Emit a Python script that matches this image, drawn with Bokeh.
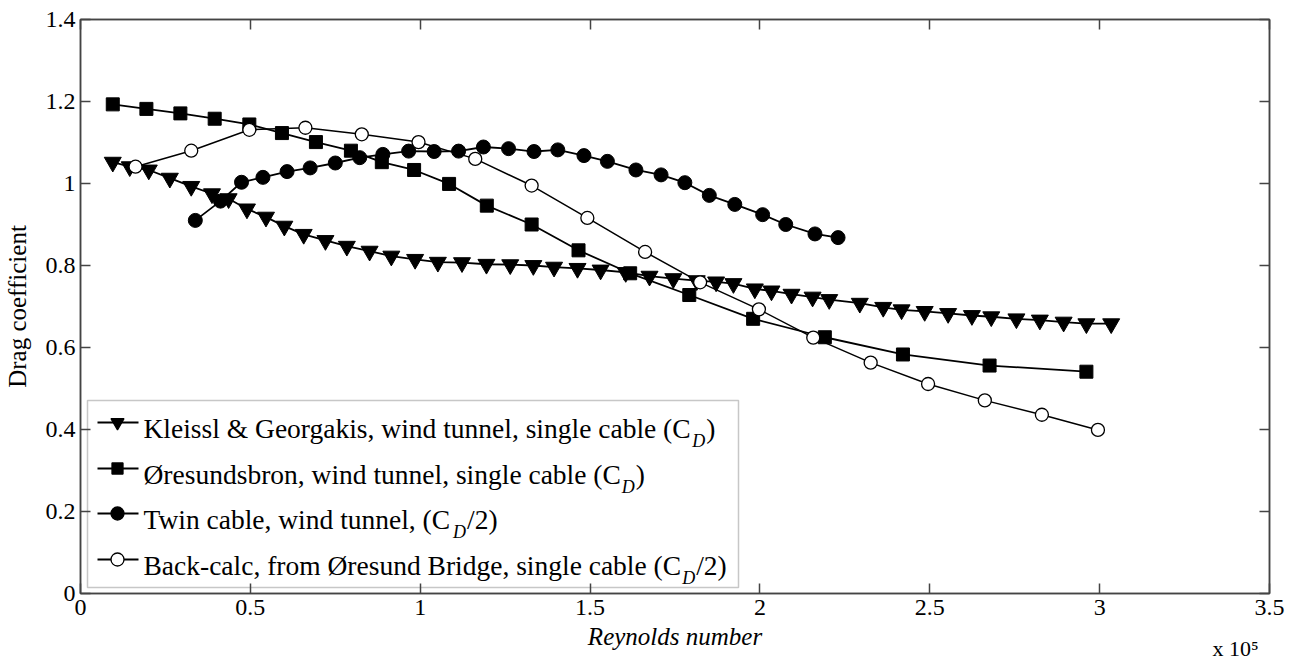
from bokeh.plotting import figure
from bokeh.models import LinearAxis, FixedTicker, Range1d, Label, BoxAnnotation, CustomJSTickFormatter
from bokeh.embed import file_html
from bokeh.resources import INLINE

# ---------------- data (Reynolds number in units of 1e5) ----------------
kleissl_re = [0.095, 0.145, 0.201, 0.263, 0.326, 0.387, 0.436, 0.490, 0.546, 0.600,
              0.657, 0.721, 0.784, 0.851, 0.915, 0.985, 1.052, 1.123, 1.195, 1.265,
              1.333, 1.394, 1.463, 1.531, 1.605, 1.675, 1.745, 1.814, 1.871, 1.922,
              1.985, 2.034, 2.093, 2.155, 2.204, 2.294, 2.363, 2.417, 2.485, 2.554,
              2.624, 2.681, 2.755, 2.824, 2.894, 2.961, 3.034]
kleissl_cd = [1.052, 1.041, 1.033, 1.013, 0.993, 0.975, 0.963, 0.938, 0.918, 0.896,
              0.876, 0.861, 0.847, 0.835, 0.823, 0.815, 0.808, 0.807, 0.803, 0.802,
              0.800, 0.796, 0.793, 0.789, 0.783, 0.774, 0.768, 0.763, 0.760, 0.756,
              0.743, 0.738, 0.730, 0.723, 0.717, 0.708, 0.698, 0.692, 0.688, 0.683,
              0.678, 0.675, 0.670, 0.667, 0.662, 0.658, 0.658]

oresund_re = [0.095, 0.194, 0.294, 0.395, 0.497, 0.593, 0.693, 0.796, 0.887, 0.982,
              1.085, 1.196, 1.328, 1.466, 1.618, 1.792, 1.980, 2.191, 2.421, 2.676, 2.961]
oresund_cd = [1.193, 1.182, 1.171, 1.158, 1.144, 1.123, 1.101, 1.080, 1.052, 1.033,
              0.999, 0.946, 0.900, 0.837, 0.781, 0.728, 0.670, 0.625, 0.583, 0.556, 0.541]

twin_re = [0.338, 0.412, 0.474, 0.537, 0.608, 0.676, 0.750, 0.822, 0.890, 0.966,
           1.041, 1.113, 1.186, 1.260, 1.335, 1.405, 1.482, 1.551, 1.635, 1.709,
           1.779, 1.851, 1.926, 2.008, 2.076, 2.162, 2.230]
twin_cd = [0.910, 0.957, 1.003, 1.015, 1.029, 1.038, 1.050, 1.063, 1.071, 1.079,
           1.078, 1.079, 1.089, 1.085, 1.078, 1.082, 1.068, 1.054, 1.033, 1.021,
           1.002, 0.971, 0.949, 0.924, 0.900, 0.877, 0.868]

backcalc_re = [0.162, 0.326, 0.497, 0.662, 0.828, 0.995, 1.162, 1.328, 1.492, 1.662,
               1.824, 1.997, 2.157, 2.326, 2.495, 2.662, 2.830, 2.995]
backcalc_cd = [1.041, 1.080, 1.131, 1.136, 1.120, 1.101, 1.060, 0.995, 0.916, 0.833,
               0.759, 0.693, 0.624, 0.563, 0.511, 0.471, 0.436, 0.399]

x_ticks = [0, 0.5, 1, 1.5, 2, 2.5, 3, 3.5]
x_tick_labels = ["0", "0.5", "1", "1.5", "2", "2.5", "3", "3.5"]
y_ticks = [0, 0.2, 0.4, 0.6, 0.8, 1, 1.2, 1.4]
y_tick_labels = ["0", "0.2", "0.4", "0.6", "0.8", "1", "1.2", "1.4"]

legend_main = ["Kleissl & Georgakis, wind tunnel, single cable (C",
               "\u00d8resundsbron, wind tunnel, single cable (C",
               "Twin cable, wind tunnel, (C",
               "Back-calc, from \u00d8resund Bridge, single cable (C"]
legend_sub = ["D", "D", "D", "D"]
legend_tail = [")", ")", " /2)", " /2)"]
legend_markers = ["inverted_triangle", "square", "circle", "circle"]
legend_fills = ["black", "black", "black", "white"]
multiplier = "x 10\u2075"

# ---------------- layout ----------------
W, H = 1295, 665
FL, FR, FT, FB = 80, 1269, 19, 593
X0, X1, Y0, Y1 = 0.0, 3.5, 0.0, 1.4
FONT = "Liberation Serif"
AX = "#444444"


def dx(px):
    return X0 + (px - FL) / (FR - FL) * (X1 - X0)


def dy(py):
    return Y0 + (FB - py) / (FB - FT) * (Y1 - Y0)


# Times / Liberation Serif advance widths (1/1000 em)
TW = {' ': 250, '&': 778, '(': 333, ')': 333, ',': 250, '-': 333, '.': 250, '/': 278,
      '2': 500, 'B': 667, 'C': 667, 'D': 722, 'G': 722, 'K': 722, 'T': 611, '\u00d8': 722,
      'a': 444, 'b': 500, 'c': 444, 'd': 500, 'e': 444, 'f': 333, 'g': 500, 'h': 500,
      'i': 278, 'k': 500, 'l': 278, 'm': 778, 'n': 500, 'o': 500, 'p': 500, 'r': 333,
      's': 389, 't': 278, 'u': 500, 'w': 722, 'y': 500}


def tw(s, size):
    return sum(TW.get(c, 500) for c in s) * size / 1000.0


p = figure(width=W, height=H, x_range=Range1d(X0, X1), y_range=Range1d(Y0, Y1),
           output_backend="svg", toolbar_location=None,
           min_border_left=FL, min_border_right=W - FR,
           min_border_top=FT, min_border_bottom=H - FB)
p.grid.visible = False
p.outline_line_color = AX
p.outline_line_width = 1.5
p.background_fill_color = "white"
p.border_fill_color = "white"

xo = {v: l for v, l in zip(x_ticks, x_tick_labels)}
yo = {v: l for v, l in zip(y_ticks, y_tick_labels)}


def style(ax):
    ax.axis_line_color = AX
    ax.axis_line_width = 1.5
    ax.major_tick_line_color = AX
    ax.major_tick_line_width = 1.5
    ax.major_tick_in = 10
    ax.major_tick_out = 0
    ax.minor_tick_line_color = None
    ax.major_label_text_font = FONT
    ax.major_label_text_font_size = "24px"
    ax.major_label_text_color = "black"
    ax.axis_label_text_font = FONT
    ax.axis_label_text_color = "black"


xa = p.xaxis[0]
ya = p.yaxis[0]
style(xa)
style(ya)
xa.ticker = FixedTicker(ticks=x_ticks)
ya.ticker = FixedTicker(ticks=y_ticks)
xa.major_label_overrides = xo
ya.major_label_overrides = yo
xa.major_label_standoff = 6
ya.major_label_standoff = 5
xa.axis_label = "Reynolds number"
xa.axis_label_text_font_style = "italic"
xa.axis_label_text_font_size = "25px"
xa.axis_label_standoff = 5
ya.axis_label = "Drag coefficient"
ya.axis_label_text_font_style = "normal"
ya.axis_label_text_font_size = "25px"
ya.axis_label_standoff = 12

blank = CustomJSTickFormatter(code="return ''")
top = LinearAxis(ticker=FixedTicker(ticks=x_ticks), formatter=blank)
right = LinearAxis(ticker=FixedTicker(ticks=y_ticks), formatter=blank)
for a in (top, right):
    style(a)
    a.major_label_text_font_size = "0px"
    a.major_label_standoff = 0
p.add_layout(top, "above")
p.add_layout(right, "right")

# "x 10^5" multiplier as the single label of an extra, invisible bottom axis
mult_x = dx(1235)
mult_axis = LinearAxis(ticker=FixedTicker(ticks=[mult_x]),
                       major_label_overrides={mult_x: multiplier})
mult_axis.axis_line_color = None
mult_axis.major_tick_line_color = None
mult_axis.minor_tick_line_color = None
mult_axis.major_tick_in = 0
mult_axis.major_tick_out = 0
mult_axis.major_label_standoff = -17
mult_axis.major_label_text_font = FONT
mult_axis.major_label_text_font_size = "22px"
mult_axis.major_label_text_color = "black"
p.add_layout(mult_axis, "below")

LW = 1.8
# series
p.line(kleissl_re, kleissl_cd, line_color="black", line_width=LW)
p.scatter(kleissl_re, kleissl_cd, marker="inverted_triangle", size=17,
          fill_color="black", line_color="black")
p.line(oresund_re, oresund_cd, line_color="black", line_width=LW)
p.scatter(oresund_re, oresund_cd, marker="square", size=13,
          fill_color="black", line_color="black")
p.line(twin_re, twin_cd, line_color="black", line_width=LW)
p.scatter(twin_re, twin_cd, marker="circle", size=14,
          fill_color="black", line_color="black")
p.line(backcalc_re, backcalc_cd, line_color="black", line_width=1.5)
p.scatter(backcalc_re, backcalc_cd, marker="circle", size=13,
          fill_color="white", line_color="black", line_width=1.3)

# ---------------- legend (drawn manually for the subscripts) ----------------
LEG_L, LEG_R, LEG_T, LEG_B = 87, 738, 400, 587
p.add_layout(BoxAnnotation(left=dx(LEG_L), right=dx(LEG_R), top=dy(LEG_T), bottom=dy(LEG_B),
                           fill_color=None, line_color=AX, line_width=1.5))
baselines = [428, 474, 519, 565]
MS = 27.5
SS = 18
for i, by in enumerate(baselines):
    ly = dy(by - 6)
    p.line([dx(97), dx(138)], [ly, ly], line_color="black", line_width=LW)
    p.scatter([dx(117)], [ly], marker=legend_markers[i],
              size=13 if legend_markers[i] != "square" else 11,
              fill_color=legend_fills[i], line_color="black", line_width=1.3)
    x_text = 143
    p.add_layout(Label(x=dx(x_text), y=dy(by), text=legend_main[i], text_font=FONT,
                       text_font_size=f"{MS}px", text_baseline="alphabetic",
                       text_align="left", text_color="black"))
    x_sub = x_text + tw(legend_main[i], MS) + 1
    p.add_layout(Label(x=dx(x_sub), y=dy(by + 12), text=legend_sub[i], text_font=FONT,
                       text_font_style="italic", text_font_size=f"{SS}px",
                       text_baseline="alphabetic", text_align="left", text_color="black"))
    x_tail = x_sub + tw(legend_sub[i], SS) + 1
    p.add_layout(Label(x=dx(x_tail), y=dy(by), text=legend_tail[i], text_font=FONT,
                       text_font_size=f"{MS}px", text_baseline="alphabetic",
                       text_align="left", text_color="black"))

open("out.html", "w").write(file_html(p, INLINE))
